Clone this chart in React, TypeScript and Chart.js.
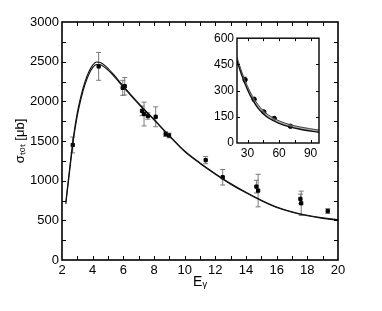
import React, { useEffect, useRef } from "react";
import { Chart, registerables } from "chart.js";

Chart.register(...registerables);

// ---------- main panel data ----------
const energies = [2.70, 4.39, 5.96, 6.09, 7.22, 7.35, 7.60, 8.11, 8.76, 8.98, 11.37, 12.48, 14.68, 14.79, 17.55, 17.60, 19.33];
const crossSections = [1450, 2440, 2170, 2190, 1880, 1840, 1815, 1805, 1587, 1570, 1259, 1043, 925, 875, 770, 715, 617];
const crossErrors = [100, 175, 95, 110, 60, 150, 40, 125, 30, 30, 45, 98, 80, 205, 60, 153, 30];

const curveE = [2.25, 2.5, 2.75, 3.0, 3.25, 3.5, 3.75, 4.0, 4.25, 4.5, 5, 5.5, 6, 7, 8, 9, 10, 11, 12, 13, 14, 15, 16, 17, 18, 19, 20];
const curveUpper = [735, 1160, 1560, 1860, 2078, 2248, 2372, 2456, 2496, 2490, 2416, 2308, 2191, 1975, 1774, 1569, 1374, 1224, 1089, 964, 854, 754, 669, 609, 563, 531, 508];
const curveLower = [705, 1120, 1520, 1820, 2042, 2212, 2338, 2424, 2464, 2460, 2394, 2292, 2179, 1965, 1766, 1561, 1366, 1216, 1081, 956, 846, 746, 661, 601, 557, 525, 502];

const mainXTicks = [2, 4, 6, 8, 10, 12, 14, 16, 18, 20];
const mainXMarks = [3, 4, 5, 6, 7, 8, 9, 10, 11, 12, 13, 14, 15, 16, 17, 18, 19];
const mainYTicks = [0, 500, 1000, 1500, 2000, 2500, 3000];
const mainYMarks = [250, 500, 750, 1000, 1250, 1500, 1750, 2000, 2250, 2500, 2750];

// ---------- inset data ----------
const insetE = [27.7, 36.3, 45.5, 55.4, 70.8];
const insetSigma = [362, 250, 178, 141, 96];
const insetErrors = [15, 12, 8, 8, 6];

const insetCurveE = [20, 25, 30, 35, 40, 45, 50, 60, 70, 80, 98];
const insetUpper = [490, 400, 325, 265, 220, 185, 160, 127, 106, 92, 74];
const insetLower = [470, 380, 305, 245, 200, 167, 143, 112, 92, 79, 61];

const insetXTicks = [30, 60, 90];
const insetXMarks = [30, 45, 60, 75, 90];
const insetYTicks = [0, 150, 300, 450, 600];
const insetYMarks = [150, 300, 450];

const FONT = "'Liberation Sans', Arial, Helvetica, sans-serif";

const decorPlugin = {
  id: "decor",
  beforeDatasetsDraw(chart: any) {
    const ctx = chart.ctx;
    const xs = chart.scales.x;
    const ys = chart.scales.y;
    chart.data.datasets.forEach((ds: any) => {
      const errs = ds.errorBars;
      if (!errs) return;
      ctx.save();
      ctx.strokeStyle = "#7a7a7a";
      ctx.lineWidth = 1;
      ds.data.forEach((p: any, j: number) => {
        const e = errs[j];
        if (!e) return;
        const px = xs.getPixelForValue(p.x);
        const y1 = ys.getPixelForValue(p.y + e);
        const y2 = ys.getPixelForValue(p.y - e);
        const cap = ds.capWidth || 2.5;
        ctx.beginPath();
        ctx.moveTo(px, y1);
        ctx.lineTo(px, y2);
        ctx.moveTo(px - cap, y1);
        ctx.lineTo(px + cap, y1);
        ctx.moveTo(px - cap, y2);
        ctx.lineTo(px + cap, y2);
        ctx.stroke();
      });
      ctx.restore();
    });
  },
  afterDraw(chart: any, _args: any, opts: any) {
    const ctx = chart.ctx;
    const { left, right, top, bottom } = chart.chartArea;
    const xs = chart.scales.x;
    const ys = chart.scales.y;
    const len = opts.tick || 4;
    ctx.save();
    ctx.strokeStyle = "#000";
    ctx.lineWidth = 1;
    ctx.beginPath();
    (opts.xMarks || []).forEach((v: number) => {
      const px = Math.round(xs.getPixelForValue(v)) + 0.5;
      ctx.moveTo(px, bottom);
      ctx.lineTo(px, bottom - len);
      ctx.moveTo(px, top);
      ctx.lineTo(px, top + len);
    });
    (opts.yMarks || []).forEach((v: number) => {
      const py = Math.round(ys.getPixelForValue(v)) + 0.5;
      ctx.moveTo(left, py);
      ctx.lineTo(left + len, py);
      ctx.moveTo(right, py);
      ctx.lineTo(right - len, py);
    });
    ctx.stroke();
    ctx.lineWidth = opts.box || 1.5;
    ctx.strokeRect(left, top, right - left, bottom - top);
    ctx.restore();
  },
};

function App() {
  const mainRef = useRef<HTMLCanvasElement | null>(null);
  const insetRef = useRef<HTMLCanvasElement | null>(null);

  useEffect(() => {
    if (!mainRef.current || !insetRef.current) return;
    Chart.defaults.font.family = FONT;
    Chart.defaults.color = "#000";

    const mainChart = new Chart(mainRef.current, {
      type: "scatter",
      data: {
        datasets: [
          {
            type: "line",
            data: curveE.map((x, i) => ({ x, y: curveUpper[i] })),
            borderColor: "#111",
            borderWidth: 1.1,
            pointRadius: 0,
            cubicInterpolationMode: "monotone",
            fill: false,
          } as any,
          {
            type: "line",
            data: curveE.map((x, i) => ({ x, y: curveLower[i] })),
            borderColor: "#111",
            borderWidth: 1.1,
            pointRadius: 0,
            cubicInterpolationMode: "monotone",
            fill: false,
          } as any,
          {
            data: energies.map((x, i) => ({ x, y: crossSections[i] })),
            errorBars: crossErrors,
            capWidth: 2.5,
            backgroundColor: "#000",
            borderColor: "#000",
            pointRadius: 2.3,
            pointStyle: "rect",
          } as any,
        ],
      },
      options: {
        animation: false,
        responsive: false,
        layout: { padding: { left: 0, right: 44, top: 22, bottom: 0 } },
        plugins: {
          legend: { display: false },
          tooltip: { enabled: false },
          decor: { tick: 4, box: 1.6, xMarks: mainXMarks, yMarks: mainYMarks },
        } as any,
        scales: {
          x: {
            type: "linear",
            min: 2,
            max: 20,
            afterFit: (s: any) => {
              s.height = 51;
            },
            grid: { display: false, drawTicks: false },
            border: { display: false },
            ticks: {
              stepSize: 1,
              autoSkip: false,
              maxRotation: 0,
              padding: 3,
              font: { size: 13 },
              color: "#000",
              callback: (v: any) => (mainXTicks.includes(Number(v)) ? String(v) : ""),
            },
            title: {
              display: true,
              text: "Eᵧ",
              font: { size: 14 },
              color: "#000",
              padding: { top: 0, bottom: 20 },
            },
          },
          y: {
            type: "linear",
            min: 0,
            max: 3000,
            afterFit: (s: any) => {
              s.width = 62;
            },
            grid: { display: false, drawTicks: false },
            border: { display: false },
            ticks: {
              stepSize: 250,
              autoSkip: false,
              padding: 3,
              font: { size: 13 },
              color: "#000",
              callback: (v: any) => (mainYTicks.includes(Number(v)) ? String(v) : ""),
            },
            title: {
              display: true,
              text: "σₜₒₜ [μb]",
              font: { size: 13 },
              color: "#000",
              padding: { top: 13, bottom: 0 },
            },
          },
        },
      } as any,
      plugins: [decorPlugin],
    });

    const insetChart = new Chart(insetRef.current, {
      type: "scatter",
      data: {
        datasets: [
          {
            type: "line",
            data: insetCurveE.map((x, i) => ({ x, y: insetUpper[i] })),
            borderColor: "#444",
            borderWidth: 1,
            pointRadius: 0,
            cubicInterpolationMode: "monotone",
            fill: false,
          } as any,
          {
            type: "line",
            data: insetCurveE.map((x, i) => ({ x, y: insetLower[i] })),
            borderColor: "#111",
            borderWidth: 1.4,
            pointRadius: 0,
            cubicInterpolationMode: "monotone",
            fill: "-1",
            backgroundColor: "rgba(150,150,150,0.75)",
          } as any,
          {
            data: insetE.map((x, i) => ({ x, y: insetSigma[i] })),
            errorBars: insetErrors,
            capWidth: 1.5,
            backgroundColor: "#000",
            borderColor: "#000",
            pointRadius: 2.2,
          } as any,
        ],
      },
      options: {
        animation: false,
        responsive: false,
        layout: { padding: { left: 0, right: 6, top: 8, bottom: 0 } },
        plugins: {
          legend: { display: false },
          tooltip: { enabled: false },
          decor: { tick: 3, box: 1.4, xMarks: insetXMarks, yMarks: insetYMarks },
        } as any,
        scales: {
          x: {
            type: "linear",
            min: 20,
            max: 98,
            afterFit: (s: any) => {
              s.height = 20;
            },
            grid: { display: false, drawTicks: false },
            border: { display: false },
            ticks: {
              stepSize: 2,
              autoSkip: false,
              maxRotation: 0,
              padding: 3,
              font: { size: 12 },
              color: "#000",
              callback: (v: any) => (insetXTicks.includes(Number(v)) ? String(v) : ""),
            },
          },
          y: {
            type: "linear",
            min: 0,
            max: 600,
            afterFit: (s: any) => {
              s.width = 47;
            },
            grid: { display: false, drawTicks: false },
            border: { display: false },
            ticks: {
              stepSize: 150,
              autoSkip: false,
              padding: 3,
              font: { size: 12 },
              color: "#000",
              callback: (v: any) => (insetYTicks.includes(Number(v)) ? String(v) : ""),
            },
          },
        },
      } as any,
      plugins: [decorPlugin],
    });

    return () => {
      mainChart.destroy();
      insetChart.destroy();
    };
  }, []);

  return (
    <div style={{ position: "fixed", left: 0, top: 0, width: 382, height: 311, background: "#fff" }}>
      <canvas ref={mainRef} width={382} height={311} style={{ position: "absolute", left: 0, top: 0 }} />
      <canvas ref={insetRef} width={135} height={135} style={{ position: "absolute", left: 190, top: 28 }} />
    </div>
  );
}

export default App;
